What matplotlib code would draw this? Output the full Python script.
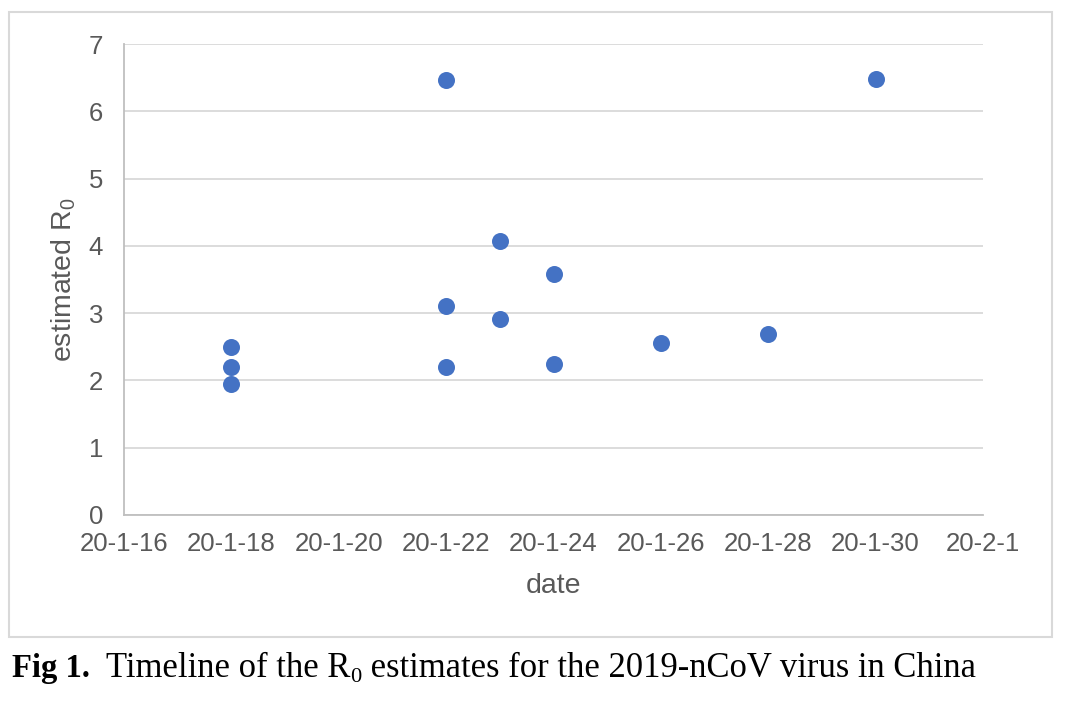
import datetime as dt
import matplotlib
matplotlib.use("Agg")
import matplotlib.pyplot as plt
import matplotlib.dates as mdates
from matplotlib.patches import Rectangle

plt.rcParams['font.family'] = ['Liberation Sans', 'DejaVu Sans']
plt.rcParams['mathtext.fontset'] = 'custom'
plt.rcParams['mathtext.sf'] = 'Liberation Sans'

# R0 estimates by publication date
dates = ['2020-01-18', '2020-01-18', '2020-01-18',
         '2020-01-22', '2020-01-22', '2020-01-22',
         '2020-01-23', '2020-01-23',
         '2020-01-24', '2020-01-24',
         '2020-01-26', '2020-01-28', '2020-01-30']
r0 = [2.50, 2.20, 1.95,
      6.47, 3.11, 2.20,
      4.07, 2.91,
      3.58, 2.24,
      2.56, 2.69, 6.48]

x_start = dt.date(2020, 1, 16)
x_end = dt.date(2020, 2, 1)
y_ticks = [0, 1, 2, 3, 4, 5, 6, 7]

grey_text = '#595959'
W, H = 1066, 702

fig = plt.figure(figsize=(W / 100, H / 100), dpi=100)
fig.patches.append(Rectangle((9 / W, 1 - 637 / H), 1043 / W, 625 / H,
                             transform=fig.transFigure, fill=False,
                             edgecolor='#d9d9d9', linewidth=1.5))

ax = fig.add_axes([124 / W, 1 - 515 / H, 859 / W, 471 / H])
xs = [dt.datetime.strptime(d, '%Y-%m-%d') for d in dates]
ax.scatter(xs, r0, s=150, color='#4472C4', zorder=3, linewidths=0)

ax.set_xlim(x_start, x_end)
ax.set_ylim(0, 7)
ax.set_yticks(y_ticks)
ax.set_xticks([x_start + dt.timedelta(days=2 * i) for i in range(9)])


def fmt(v, pos=None):
    d = mdates.num2date(v)
    return f"{d.year % 100}-{d.month}-{d.day}"


ax.xaxis.set_major_formatter(plt.FuncFormatter(fmt))
ax.grid(axis='y', color='#d9d9d9', linewidth=1.3)
ax.set_axisbelow(True)
for side in ['top', 'right']:
    ax.spines[side].set_visible(False)
for side in ['left', 'bottom']:
    ax.spines[side].set_color('#bfbfbf')
    ax.spines[side].set_linewidth(1.3)
ax.tick_params(axis='both', length=0, labelsize=18.5, colors=grey_text)
ax.tick_params(axis='y', pad=15)
ax.tick_params(axis='x', pad=12)

ax.set_xlabel('date', fontsize=20.5, color=grey_text, va='center')
ax.xaxis.set_label_coords(0.5, (515 - 586) / 471)
ax.set_ylabel(r'estimated $\mathsf{R}_\mathsf{0}$', fontsize=20.5, color=grey_text, va='center')
ax.yaxis.set_label_coords((64 - 124) / 859, 0.5)

# caption built from pieces: bold label, text, subscript, text
renderer = fig.canvas.get_renderer()
cap_size = 24.9
base = 1 - 677 / H
pieces = [('Fig 1.', 'bold', 23.5, 0, 12),
          ('Timeline of the R', 'normal', cap_size, 0, 106),
          ('0', 'normal', cap_size * 0.65, -5, None),
          (' estimates for the 2019-nCoV virus in China', 'normal', cap_size, 0, None)]
x = 12
for s, w, size, dy, x0 in pieces:
    if x0 is not None:
        x = x0
    t = fig.text(x / W, base + dy / H, s, fontsize=size, weight=w,
                 family='Liberation Serif', color='black', va='baseline')
    x = t.get_window_extent(renderer).x1

fig.savefig('out.png', dpi=100)
